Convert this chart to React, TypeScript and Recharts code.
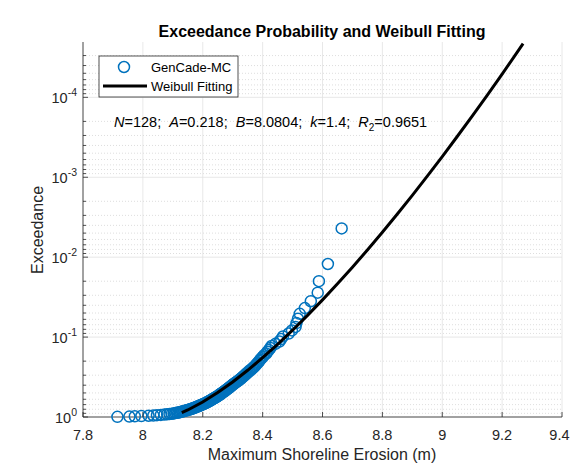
import React from 'react';
import { ComposedChart, Scatter, XAxis, YAxis, CartesianGrid } from 'recharts';

// Sorted maximum shoreline erosion (m), ascending
const erosion = [
  7.915, 7.955, 7.973, 7.995, 8.019, 8.035, 8.047, 8.060, 8.072, 8.081,
  8.089, 8.097, 8.103, 8.109, 8.114, 8.119, 8.123, 8.127, 8.131, 8.135,
  8.139, 8.143, 8.147, 8.151, 8.155, 8.158, 8.162, 8.165, 8.168, 8.171,
  8.174, 8.177, 8.180, 8.183, 8.186, 8.189, 8.192, 8.195, 8.198, 8.201,
  8.204, 8.207, 8.210, 8.212, 8.215, 8.218, 8.220, 8.223, 8.225, 8.228,
  8.230, 8.233, 8.235, 8.238, 8.241, 8.243, 8.246, 8.249, 8.251, 8.254,
  8.256, 8.258, 8.261, 8.263, 8.266, 8.268, 8.271, 8.274, 8.276, 8.279,
  8.281, 8.284, 8.287, 8.289, 8.292, 8.295, 8.297, 8.300, 8.303, 8.306,
  8.310, 8.313, 8.317, 8.320, 8.323, 8.327, 8.330, 8.333, 8.336, 8.340,
  8.343, 8.346, 8.350, 8.354, 8.357, 8.362, 8.366, 8.370, 8.374, 8.378,
  8.381, 8.385, 8.389, 8.392, 8.396, 8.401, 8.405, 8.412, 8.416, 8.421,
  8.426, 8.430, 8.443, 8.456, 8.462, 8.468, 8.487, 8.498, 8.510, 8.513,
  8.518, 8.524, 8.541, 8.561, 8.584, 8.588, 8.618, 8.664,
];

// Exceedance probability of each sample (same order)
const exceedance = [
  0.99563, 0.98783, 0.98002, 0.97222, 0.96441, 0.95660, 0.94880, 0.94099, 0.93319, 0.92538,
  0.91758, 0.90977, 0.90197, 0.89416, 0.88636, 0.87855, 0.87075, 0.86294, 0.85514, 0.84733,
  0.83953, 0.83172, 0.82392, 0.81611, 0.80831, 0.80050, 0.79270, 0.78489, 0.77709, 0.76928,
  0.76148, 0.75367, 0.74586, 0.73806, 0.73025, 0.72245, 0.71464, 0.70684, 0.69903, 0.69123,
  0.68342, 0.67562, 0.66781, 0.66001, 0.65220, 0.64440, 0.63659, 0.62879, 0.62098, 0.61318,
  0.60537, 0.59757, 0.58976, 0.58196, 0.57415, 0.56635, 0.55854, 0.55074, 0.54293, 0.53512,
  0.52732, 0.51951, 0.51171, 0.50390, 0.49610, 0.48829, 0.48049, 0.47268, 0.46488, 0.45707,
  0.44927, 0.44146, 0.43366, 0.42585, 0.41805, 0.41024, 0.40244, 0.39463, 0.38683, 0.37902,
  0.37122, 0.36341, 0.35561, 0.34780, 0.34000, 0.33219, 0.32438, 0.31658, 0.30877, 0.30097,
  0.29316, 0.28536, 0.27755, 0.26975, 0.26194, 0.25414, 0.24633, 0.23853, 0.23072, 0.22292,
  0.21511, 0.20731, 0.19950, 0.19170, 0.18389, 0.17609, 0.16828, 0.16048, 0.15267, 0.14487,
  0.13706, 0.12925, 0.12145, 0.11364, 0.10584, 0.09803, 0.09023, 0.08242, 0.07462, 0.06681,
  0.05901, 0.05120, 0.04340, 0.03559, 0.02779, 0.01998, 0.01218, 0.00437,
];

// Weibull fitting curve
const fitX = [8.13, 8.15, 8.2, 8.25, 8.3, 8.35, 8.4, 8.45, 8.5, 8.55, 8.6, 8.65, 8.7, 8.75, 8.8, 8.85, 8.9, 8.95, 9.0, 9.05, 9.1, 9.15, 9.2, 9.25, 9.27];
const fitP = [0.8818, 0.8169, 0.6495, 0.4948, 0.3641, 0.2602, 0.1811, 0.1232, 0.08199, 0.05349, 0.03427, 0.02157, 0.01335, 0.008134, 0.004886, 0.002889, 0.001685, 0.00097, 0.000551, 0.000309, 0.0001717, 0.0000942, 0.0000511, 0.0000274, 0.0000213];

const xTicks = [7.8, 8, 8.2, 8.4, 8.6, 8.8, 9, 9.2, 9.4];
const yMajor = [1e-4, 1e-3, 1e-2, 1e-1, 1];
const yMinor = [
  3e-5, 4e-5, 5e-5, 6e-5, 7e-5, 8e-5, 9e-5,
  2e-4, 3e-4, 4e-4, 5e-4, 6e-4, 7e-4, 8e-4, 9e-4,
  2e-3, 3e-3, 4e-3, 5e-3, 6e-3, 7e-3, 8e-3, 9e-3,
  2e-2, 3e-2, 4e-2, 5e-2, 6e-2, 7e-2, 8e-2, 9e-2,
  0.2, 0.3, 0.4, 0.5, 0.6, 0.7, 0.8, 0.9,
];
const yDomain = [2.03e-5, 1];

const points = erosion.map((x, i) => ({ x, p: exceedance[i] }));
const fitData = fitX.map((x, i) => ({ x, p: fitP[i] }));
const yAll = [...yMajor, ...yMinor].sort((a, b) => a - b);

const AX = '#262626';
const FONT = '"Liberation Sans", Arial, Helvetica, sans-serif';
const BLUE = '#0072BD';
const W = 562;
const H = 460;
const isMajor = (v: number) => yMajor.some((m) => Math.abs(m - v) / m < 1e-6);

const LeftTick = (props: any) => {
  const { x, y, payload } = props;
  const v = payload.value;
  const major = isMajor(v);
  const e = Math.round(Math.log10(v));
  return (
    <g>
      <line x1={x} y1={y} x2={x + (major ? 5 : 3)} y2={y} stroke={AX} strokeWidth={0.8} />
      {major && (
        <text x={x - 6} y={y + 6} textAnchor="end" fontSize={14.5} fill={AX} fontFamily={FONT}>
          10<tspan dy={-7} fontSize={10.5}>{String(e)}</tspan>
        </text>
      )}
    </g>
  );
};

const RightTick = (props: any) => {
  const { x, y, payload } = props;
  const major = isMajor(payload.value);
  return <line x1={x} y1={y} x2={x - (major ? 5 : 3)} y2={y} stroke={AX} strokeWidth={0.8} />;
};

const BottomTick = (props: any) => {
  const { x, y, payload } = props;
  const nearEdge = x + 10 > W - 0.5;
  return (
    <g>
      <line x1={x} y1={y} x2={x} y2={y - 5} stroke={AX} strokeWidth={0.8} />
      <text
        x={nearEdge ? W - 0.5 : x}
        y={y + 23}
        textAnchor={nearEdge ? 'end' : 'middle'}
        fontSize={14.5}
        fill={AX}
        fontFamily={FONT}
      >
        {String(payload.value)}
      </text>
    </g>
  );
};

const TopTick = (props: any) => {
  const { x, y } = props;
  return <line x1={x} y1={y} x2={x} y2={y + 5} stroke={AX} strokeWidth={0.8} />;
};

const Circle = (props: any) => {
  const { cx, cy } = props;
  if (cx == null || cy == null) return <g />;
  return <circle cx={cx} cy={cy} r={5.5} fill="none" stroke={BLUE} strokeWidth={1.5} />;
};

export default function App() {
  return (
    <div style={{ position: 'relative', width: 570, height: 468, background: '#fff' }}>
      <style>{'body{margin:0}'}</style>
      <div style={{ position: 'absolute', left: 8, top: 8, width: W, height: H }}>
        <ComposedChart width={W} height={H} margin={{ top: 34, right: 8, bottom: 21, left: 15 }}>
          <CartesianGrid xAxisId="b" yAxisId="l" vertical={true} horizontal={false} stroke="#e2e2e2" strokeWidth={0.8} />
          <CartesianGrid xAxisId="b" yAxisId="l" vertical={false} horizontal={true} horizontalValues={yMinor} stroke="#d6d6d6" strokeDasharray="1 2" strokeWidth={0.8} />
          <CartesianGrid xAxisId="b" yAxisId="l" vertical={false} horizontal={true} horizontalValues={yMajor} stroke="#e2e2e2" strokeWidth={0.8} />
          <XAxis
            xAxisId="b"
            dataKey="x"
            type="number"
            domain={[7.8, 9.4]}
            ticks={xTicks}
            interval={0}
            allowDataOverflow
            height={30}
            tickSize={0}
            tickMargin={0}
            tickLine={false}
            tick={<BottomTick />}
            axisLine={{ stroke: AX, strokeWidth: 0.8 }}
          />
          <XAxis
            xAxisId="t"
            orientation="top"
            type="number"
            domain={[7.8, 9.4]}
            ticks={xTicks}
            interval={0}
            allowDataOverflow
            height={0}
            tickSize={0}
            tickMargin={0}
            tickLine={false}
            tick={<TopTick />}
            axisLine={{ stroke: AX, strokeWidth: 0.8 }}
          />
          <YAxis
            yAxisId="l"
            dataKey="p"
            type="number"
            scale="log"
            domain={yDomain}
            reversed
            ticks={yAll}
            interval={0}
            width={60}
            tickSize={0}
            tickMargin={0}
            tickLine={false}
            tick={<LeftTick />}
            axisLine={{ stroke: AX, strokeWidth: 0.8 }}
          />
          <YAxis
            yAxisId="r"
            orientation="right"
            type="number"
            scale="log"
            domain={yDomain}
            allowDataOverflow
            reversed
            ticks={yAll}
            interval={0}
            width={0}
            tickSize={0}
            tickMargin={0}
            tickLine={false}
            tick={<RightTick />}
            axisLine={{ stroke: AX, strokeWidth: 0.8 }}
          />
          <Scatter
            xAxisId="b"
            yAxisId="l"
            data={points}
            dataKey="p"
            shape={<Circle />}
            isAnimationActive={false}
          />
          <Scatter
            xAxisId="b"
            yAxisId="l"
            data={fitData}
            dataKey="p"
            line={{ stroke: '#000000', strokeWidth: 3 }}
            shape={() => <g />}
            isAnimationActive={false}
          />
        </ComposedChart>
        <svg
          width={W}
          height={H}
          style={{ position: 'absolute', left: 0, top: 0, pointerEvents: 'none' }}
          fontFamily={FONT}
        >
          <text x={314} y={29} textAnchor="middle" fontSize={16} fontWeight="bold" fill="#000">
            Exceedance Probability and Weibull Fitting
          </text>
          <text x={314} y={452} textAnchor="middle" fontSize={16} fill={AX}>
            Maximum Shoreline Erosion (m)
          </text>
          <text x={35} y={222} textAnchor="middle" fontSize={16} fill={AX} transform="rotate(-90 35 222)">
            Exceedance
          </text>
          <rect x={91} y={48} width={139} height={41} fill="#fff" stroke={AX} strokeWidth={0.8} />
          <circle cx={116} cy={59} r={5.5} fill="none" stroke={BLUE} strokeWidth={1.5} />
          <text x={143} y={63.5} fontSize={13} fill="#000">GenCade-MC</text>
          <line x1={95} y1={78} x2={139} y2={78} stroke="#000" strokeWidth={3} />
          <text x={143} y={82.5} fontSize={13} fill="#000">Weibull Fitting</text>
          <text x={106} y={119} fontSize={14.5} fill="#000" style={{ whiteSpace: 'pre' }}>
            <tspan fontStyle="italic">N</tspan>=128;  <tspan fontStyle="italic">A</tspan>=0.218;  <tspan fontStyle="italic">B</tspan>=8.0804;  <tspan fontStyle="italic">k</tspan>=1.4;  <tspan fontStyle="italic">R</tspan><tspan dy={4} fontSize={10}>2</tspan><tspan dy={-4}>=0.9651</tspan>
          </text>
        </svg>
      </div>
    </div>
  );
}
